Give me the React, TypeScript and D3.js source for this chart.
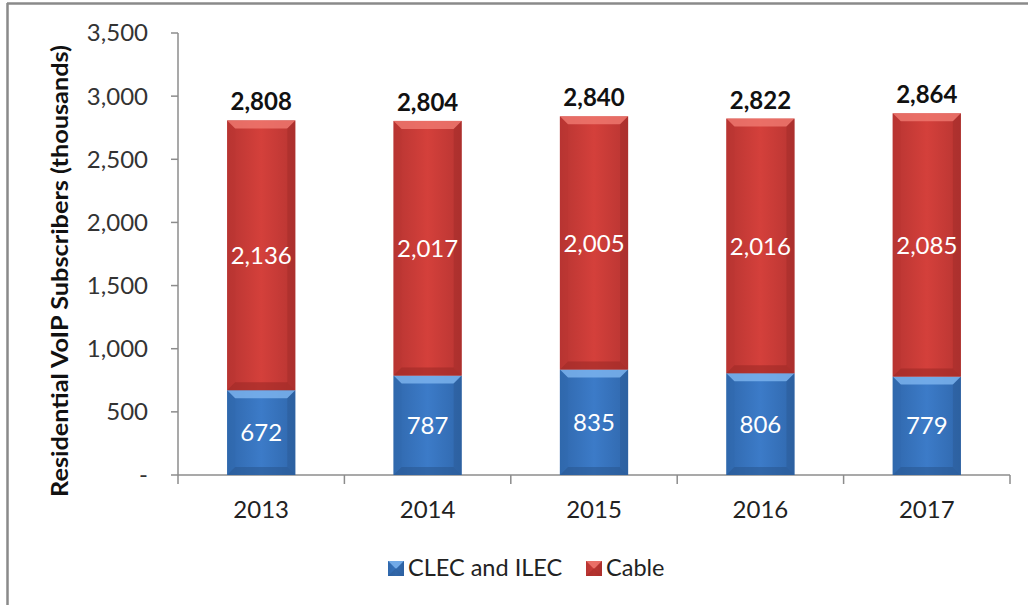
import React from "react";
import * as d3 from "d3";

const years = ["2013", "2014", "2015", "2016", "2017"];
const clec = [672, 787, 835, 806, 779];
const cable = [2136, 2017, 2005, 2016, 2085];
const totals = [2808, 2804, 2840, 2822, 2864];
const yTicks = [0, 500, 1000, 1500, 2000, 2500, 3000, 3500];

const W = 1028;
const H = 605;
const margin = { top: 33, right: 18, bottom: 130, left: 178 };
const FONT = "Lato, Carlito, Calibri, 'Open Sans', sans-serif";

const series = [
  { name: "CLEC and ILEC", values: clec, base: "#3c7bc8", light: "#7fb6f0", dark: "#2a5892", side: "#3068ad" },
  { name: "Cable", values: cable, base: "#d4403b", light: "#f07a72", dark: "#9e2a27", side: "#b83532" },
];

const fmt = d3.format(",");

function BevelBar(props: { x: number; y: number; w: number; h: number; s: (typeof series)[number] }) {
  const { x, y, w, h, s } = props;
  const b = Math.min(8, h / 2);
  const gid = `g-${s.name.replace(/\W/g, "")}`;
  return (
    <g>
      <rect x={x} y={y} width={w} height={h} fill={`url(#${gid})`} />
      {/* top bevel */}
      <polygon points={`${x},${y} ${x + w},${y} ${x + w - b},${y + b} ${x + b},${y + b}`} fill={s.light} opacity={0.8} />
      {/* bottom bevel */}
      <polygon points={`${x},${y + h} ${x + w},${y + h} ${x + w - b},${y + h - b} ${x + b},${y + h - b}`} fill={s.dark} opacity={0.6} />
      {/* side bevels */}
      <polygon points={`${x},${y} ${x + b},${y + b} ${x + b},${y + h - b} ${x},${y + h}`} fill={s.side} opacity={0.4} />
      <polygon points={`${x + w},${y} ${x + w - b},${y + b} ${x + w - b},${y + h - b} ${x + w},${y + h}`} fill={s.dark} opacity={0.45} />
    </g>
  );
}

export default function App() {
  const x = d3.scaleBand<string>().domain(years).range([margin.left, W - margin.right]).padding(0);
  const y = d3.scaleLinear().domain([0, 3500]).range([H - margin.bottom, margin.top]);
  const barW = x.bandwidth() * 0.41;
  const axisColor = "#8c8c8c";
  const y0 = y(0);

  return (
    <svg width={W} height={H} style={{ position: "absolute", left: 0, top: 0, background: "#fff" }} fontFamily={FONT}>
      <defs>
        {series.map((s) => (
          <linearGradient key={s.name} id={`g-${s.name.replace(/\W/g, "")}`} x1="0" x2="1" y1="0" y2="0">
            <stop offset="0" stopColor={s.side} />
            <stop offset="0.5" stopColor={s.base} />
            <stop offset="1" stopColor={s.side} />
          </linearGradient>
        ))}
      </defs>

      {/* outer frame */}
      <line x1={7} x2={W} y1={3.5} y2={3.5} stroke="#8a8a8a" strokeWidth={2.5} />
      <line x1={7.5} x2={7.5} y1={3} y2={H} stroke="#8a8a8a" strokeWidth={2.5} />

      {/* y axis */}
      <line x1={margin.left} x2={margin.left} y1={y(3500)} y2={y0} stroke={axisColor} strokeWidth={1.5} />
      {yTicks.map((t) => (
        <g key={t}>
          <line x1={margin.left - 7} x2={margin.left} y1={y(t)} y2={y(t)} stroke={axisColor} strokeWidth={1.5} />
          <text x={148} y={y(t)} dy="0.35em" textAnchor="end" fontSize={24} fill="#333">
            {t === 0 ? "-" : fmt(t)}
          </text>
        </g>
      ))}

      {/* x axis */}
      <line x1={margin.left} x2={W - margin.right} y1={y0} y2={y0} stroke={axisColor} strokeWidth={1.5} />
      {[...years.map((d) => x(d)!), W - margin.right].map((px, i) => (
        <line key={i} x1={px} x2={px} y1={y0} y2={y0 + 9} stroke={axisColor} strokeWidth={1.5} />
      ))}
      {years.map((d) => (
        <text key={d} x={x(d)! + x.bandwidth() / 2} y={518} textAnchor="middle" fontSize={24} fill="#222">
          {d}
        </text>
      ))}

      {/* bars */}
      {years.map((d, i) => {
        const cx = x(d)! + x.bandwidth() / 2;
        const bx = cx - barW / 2;
        let acc = 0;
        return (
          <g key={d}>
            {series.map((s) => {
              const v = s.values[i];
              const top = y(acc + v);
              const bottom = y(acc);
              acc += v;
              return (
                <g key={s.name}>
                  <BevelBar x={bx} y={top} w={barW} h={bottom - top} s={s} />
                  <text x={cx} y={(top + bottom) / 2} dy="0.36em" textAnchor="middle" fontSize={24} fill="#fff">
                    {fmt(v)}
                  </text>
                </g>
              );
            })}
            <text x={cx} y={y(totals[i]) - 10} textAnchor="middle" fontSize={24} fontWeight="bold" fill="#111">
              {fmt(totals[i])}
            </text>
          </g>
        );
      })}

      {/* y title */}
      <text
        transform={`translate(68, ${(y(3500) + y0) / 2 + 17}) rotate(-90)`}
        textAnchor="middle"
        fontSize={22.5}
        fontWeight="bold"
        fill="#111"
        textLength={452}
        lengthAdjust="spacingAndGlyphs"
      >
        Residential VoIP Subscribers (thousands)
      </text>

      {/* legend */}
      {series.map((s, i) => {
        const lx = [388, 586][i];
        return (
          <g key={s.name}>
            <BevelBar x={lx} y={561} w={16} h={15} s={s} />
            <text x={lx + 20} y={576} fontSize={23.5} fill="#222">
              {s.name}
            </text>
          </g>
        );
      })}
    </svg>
  );
}
